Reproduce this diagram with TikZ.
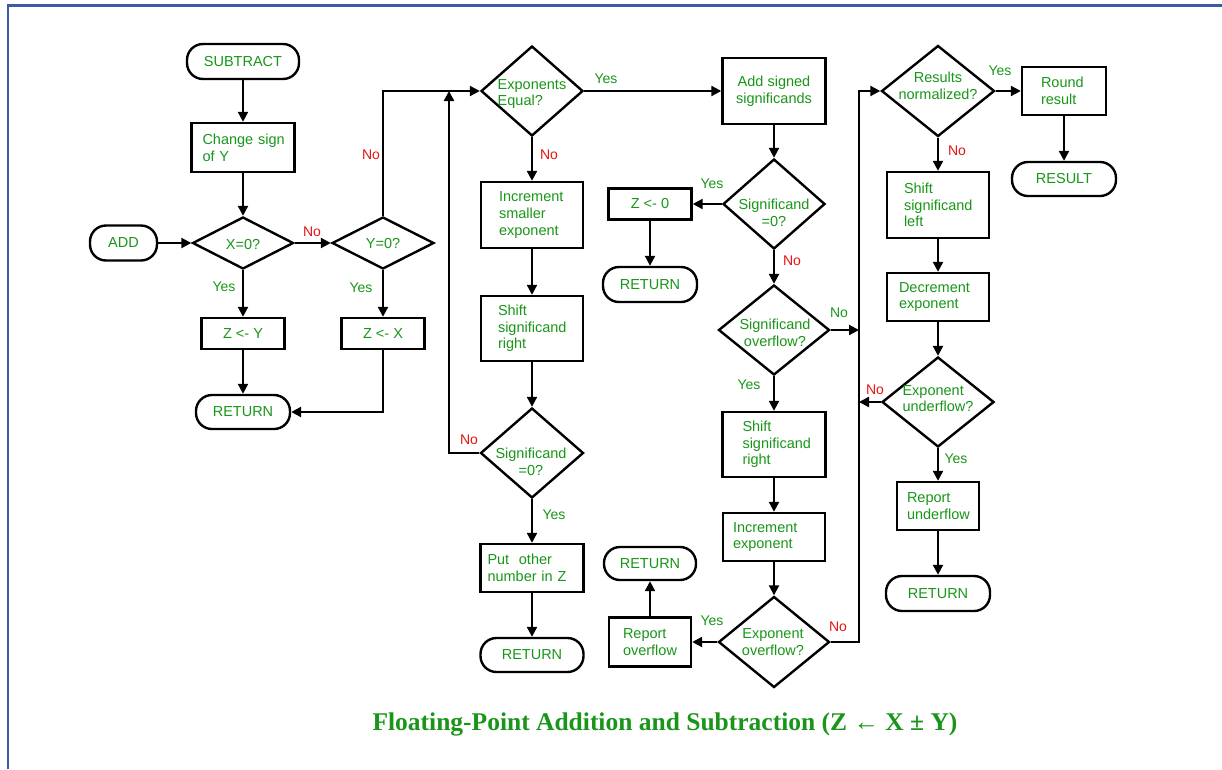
\documentclass[tikz,border=0pt]{standalone}
\usepackage{fontspec}
\setmainfont{Liberation Sans}
\newfontfamily\titlefont{Liberation Serif}
\usetikzlibrary{arrows.meta,shapes.geometric}
\definecolor{fcgreen}{RGB}{25,150,25}
\definecolor{fcred}{RGB}{230,20,20}
\definecolor{frameblue}{RGB}{60,90,165}
\hyphenpenalty=10000
\exhyphenpenalty=10000
\begin{document}
\begin{tikzpicture}[x=1pt,y=-1pt,
  every node/.style={font=\fontsize{14.5}{16.7}\selectfont, text=fcgreen, inner sep=0pt},
  shp/.style={draw=black, line width=2.4pt},
  bx/.style={shp, rectangle},
  term/.style={shp, rectangle, rounded corners=16pt},
  dia/.style={shp, diamond},
  lab/.style={font=\fontsize{14}{16}\selectfont},
  yes/.style={lab, text=fcgreen},
  no/.style={lab, text=fcred},
  arr/.style={line width=2.2pt, -{Triangle[length=10pt,width=10pt]}}
]
\useasboundingbox (0,0) rectangle (1222,769);
\fill[white] (0,0) rectangle (1222,769);
\draw[frameblue, line width=2.6pt] (8,769) -- (8,5.5) -- (1222,5.5);

% ---- column 1
\node[term, minimum width=112pt, minimum height=35pt] (sub) at (243,61.5) {SUBTRACT};
\node[bx, minimum width=103pt, minimum height=49pt, text width=81pt, align=left] (chg) at (243,147.5) {Change~sign\\of~Y};
\node[term, minimum width=67pt, minimum height=35pt] (add) at (123.5,243) {ADD};
\node[dia, minimum width=101pt, minimum height=52pt] (x0) at (243,243) {};
\node (x0t) at (243,244.5) {X=0?};
\node[dia, minimum width=102pt, minimum height=52pt] (y0) at (383,243) {};
\node (y0t) at (383,243.5) {Y=0?};
\node[bx, minimum width=83pt, minimum height=31pt] (zy) at (243,333.5) {Z <- Y};
\node[bx, minimum width=83pt, minimum height=31pt] (zx) at (383,333.5) {Z <- X};
\node[term, minimum width=94pt, minimum height=34pt] (ret1) at (243,412) {RETURN};

% ---- column 2
\node[dia, minimum width=102pt, minimum height=90pt] (eq) at (532,91) {};
\node[align=left] (eqt) at (532,94) {Exponents\\Equal?};
\node[bx, minimum width=102pt, minimum height=66pt, text width=66pt, align=left] (inc1) at (532,215) {Increment\\smaller\\exponent};
\node[bx, minimum width=102pt, minimum height=65pt, text width=68pt, align=left] (sh1) at (532,328.5) {Shift\\significand\\right};
\node[dia, minimum width=103pt, minimum height=90pt] (s2) at (532,453) {};
\node[align=center] (s2t) at (531,462) {Significand\\=0?};
\node[bx, minimum width=103pt, minimum height=48pt, text width=89pt, align=left] (put) at (532,568) {Put~~other\\number~in~Z};
\node[term, minimum width=103pt, minimum height=34pt] (ret3) at (532,655) {RETURN};
\coordinate (j1) at (449,91);

% ---- column 3
\node[bx, minimum width=103pt, minimum height=66pt, align=center] (add2) at (774,91) {Add signed\\significands};
\node[dia, minimum width=102pt, minimum height=90pt] (s3) at (774,204) {};
\node[align=center] (s3t) at (774,213) {Significand\\=0?};
\node[bx, minimum width=83pt, minimum height=31pt] (z0) at (650,204) {Z <- 0};
\node[term, minimum width=94pt, minimum height=35pt] (ret2) at (650,284.5) {RETURN};
\node[dia, minimum width=111pt, minimum height=90pt] (sov) at (774,330) {};
\node[align=center] (sovt) at (775,333) {Significand\\overflow?};
\node[bx, minimum width=103pt, minimum height=65pt, text width=63pt, align=left] (sh2) at (774,444.5) {Shift\\significand\\right};
\node[bx, minimum width=102pt, minimum height=48pt, text width=82pt, align=left] (incx) at (774,537) {Increment\\exponent};
\node[dia, minimum width=111pt, minimum height=91pt] (eov) at (774,642) {};
\node[align=center] (eovt) at (773,642) {Exponent\\overflow?};
\node[bx, minimum width=82pt, minimum height=49pt, text width=54pt, align=left] (rovf) at (650,642) {Report\\overflow};
\node[term, minimum width=92pt, minimum height=33pt] (ret4) at (650,563.5) {RETURN};
\coordinate (j2) at (859,330);
\coordinate (c3) at (859,642);

% ---- column 4
\node[dia, minimum width=113pt, minimum height=91pt] (rn) at (938,91) {};
\node[align=center] (rnt) at (938,86) {Results\\normalized?};
\node[bx, minimum width=84pt, minimum height=48pt, text width=46pt, align=left] (round) at (1064,91) {Round\\result};
\node[term, minimum width=104pt, minimum height=34pt] (result) at (1064,179) {RESULT};
\node[bx, minimum width=102pt, minimum height=66pt, text width=68pt, align=left] (shl) at (938,205) {Shift\\significand\\left};
\node[bx, minimum width=102pt, minimum height=48pt, text width=78pt, align=left] (dec) at (938,297) {Decrement\\exponent};
\node[dia, minimum width=112pt, minimum height=90pt] (euf) at (938,402) {};
\node[align=left] (euft) at (938,398.5) {Exponent\\underflow?};
\node[bx, minimum width=82pt, minimum height=48pt, text width=62pt, align=left] (rund) at (938,506) {Report\\underflow};
\node[term, minimum width=104pt, minimum height=35pt] (ret5) at (938,593.5) {RETURN};
\coordinate (j4) at (859,402);

% ---- connectors
\draw[arr] (sub) -- (chg);
\draw[arr] (chg) -- (x0);
\draw[arr] (add) -- (x0);
\draw[arr] (x0) -- (y0);
\draw[arr] (x0) -- (zy);
\draw[arr] (y0) -- (zx);
\draw[arr] (zy) -- (ret1);
\draw[arr] (zx.south) |- (ret1.east);
\draw[arr] (y0.north) |- (eq.west);
\draw[arr] (eq) -- (add2);
\draw[arr] (eq) -- (inc1);
\draw[arr] (inc1) -- (sh1);
\draw[arr] (sh1) -- (s2);
\draw[arr] (s2.west) -| (j1);
\draw[arr] (s2) -- (put);
\draw[arr] (put) -- (ret3);
\draw[arr] (add2) -- (s3);
\draw[arr] (s3.west) -- (z0.east);
\draw[arr] (z0) -- (ret2);
\draw[arr] (s3) -- (sov);
\draw[arr] (sov.east) -- (j2);
\draw[arr] (sov) -- (sh2);
\draw[arr] (sh2) -- (incx);
\draw[arr] (incx) -- (eov);
\draw[arr] (eov.west) -- (rovf.east);
\draw[arr] (rovf) -- (ret4);
\draw[arr] (eov.east) -- (c3) |- (rn.west);
\draw[arr] (rn) -- (round);
\draw[arr] (round) -- (result);
\draw[arr] (rn) -- (shl);
\draw[arr] (shl) -- (dec);
\draw[arr] (dec) -- (euf);
\draw[arr] (euf.west) -- (j4);
\draw[arr] (euf) -- (rund);
\draw[arr] (rund) -- (ret5);

% ---- branch labels
\node[no]  (l1)  at (312,232) {No};
\node[no]  (l2)  at (371,155) {No};
\node[yes] (l3)  at (224,287) {Yes};
\node[yes] (l4)  at (361,288) {Yes};
\node[yes] (l5)  at (606,79)  {Yes};
\node[no]  (l6)  at (549,155) {No};
\node[no]  (l7)  at (469,440) {No};
\node[yes] (l8)  at (554,515) {Yes};
\node[yes] (l9)  at (712,184) {Yes};
\node[no]  (l10) at (792,261) {No};
\node[yes] (l11) at (839,313) {No};
\node[yes] (l12) at (749,385) {Yes};
\node[yes] (l13) at (712,621) {Yes};
\node[no]  (l14) at (838,627) {No};
\node[yes] (l15) at (1000,71) {Yes};
\node[no]  (l16) at (957,151) {No};
\node[no]  (l17) at (875,390) {No};
\node[yes] (l18) at (956,459) {Yes};

% ---- title
\node[font=\titlefont\bfseries\fontsize{25.5}{30}\selectfont, text=fcgreen] (title) at (665,724) {Floating-Point Addition and Subtraction (Z ← X ± Y)};
\end{tikzpicture}
\end{document}
